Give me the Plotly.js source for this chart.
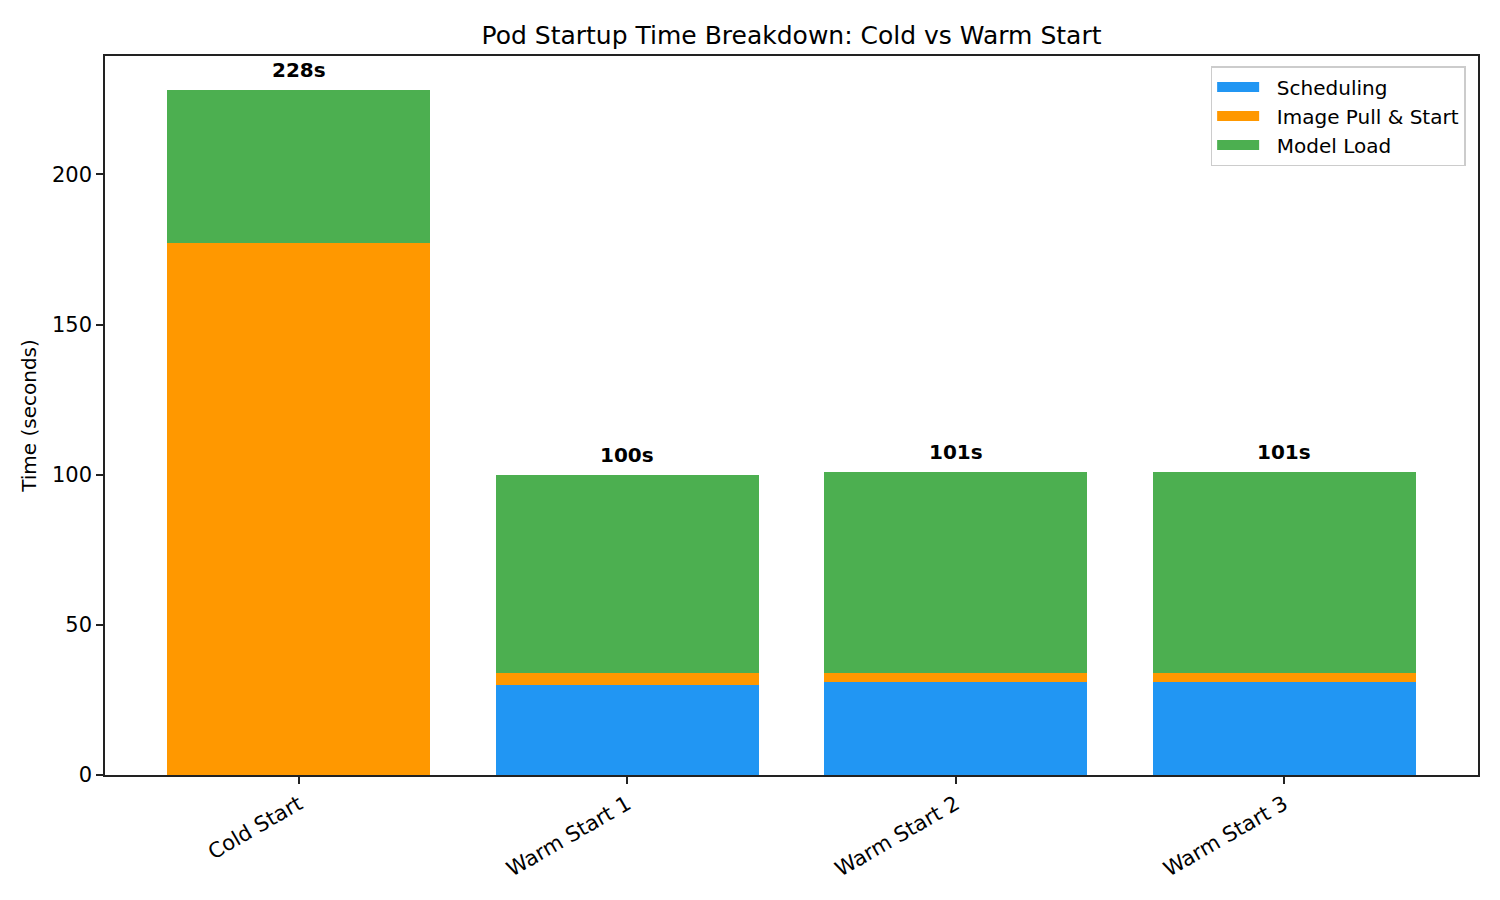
<!DOCTYPE html>
<html>
<head>
<meta charset="utf-8">
<script src="https://cdn.plot.ly/plotly-3.0.1.min.js"></script>
<style>
  html, body { margin: 0; padding: 0; background: #fff; }
  #divPlot { width: 1500px; height: 900px; }
</style>
</head>
<body>
<div id="divPlot"></div>
<script>
const stages = [ 'Cold Start', 'Warm Start 1', 'Warm Start 2', 'Warm Start 3' ];
const scheduling = [ 0, 30, 31, 31 ];
const imagePull = [ 177, 4, 3, 3 ];
const modelLoad = [ 51, 66, 67, 67 ];

const seriesNames = [ 'Scheduling', 'Image Pull & Start', 'Model Load' ];
const seriesColors = [ '#2196F3', '#FF9800', '#4CAF50' ];

const font = 'DejaVu Sans, sans-serif';

const totals = stages.map((_, i) => scheduling[i] + imagePull[i] + modelLoad[i]);

// the bars themselves, legend handled by the line swatches below
const bars = [ scheduling, imagePull, modelLoad ].map((y, k) => ({
  x : stages,
  y : y,
  name : seriesNames[k],
  type : 'bar',
  marker : {color : seriesColors[k], line : {width : 0}},
  showlegend : false,
  legendgroup : 'g' + k
}));

// wide rectangular swatches like matplotlib's legend patches
// (nbsp pad gives the gap between swatch and label)
const swatches = seriesNames.map((n, k) => ({
  x : [ null ],
  y : [ null ],
  name : '\u00a0\u00a0' + n,
  type : 'scatter',
  mode : 'lines',
  line : {color : seriesColors[k], width : 13},
  legendgroup : 'g' + k,
  hoverinfo : 'skip'
}));

const labels = stages.map((s, i) => ({
  x : s,
  y : totals[i],
  text : '<b>' + totals[i] + 's</b>',
  showarrow : false,
  yanchor : 'bottom',
  yshift : 6,
  font : {family : font, size : 20, color : '#000'}
}));

const layout = {
  width : 1500,
  height : 900,
  barmode : 'stack',
  bargap : 0.2,
  paper_bgcolor : '#fff',
  plot_bgcolor : '#fff',
  margin : {l : 105, r : 22, t : 56, b : 125},
  font : {family : font, size : 20, color : '#000'},
  title : {
    text : 'Pod Startup Time Breakdown: Cold vs Warm Start',
    font : {family : font, size : 25, color : '#000'},
    x : 0.5,
    xref : 'paper',
    y : 1,
    yref : 'paper',
    yanchor : 'bottom',
    pad : {b : 12}
  },
  xaxis : {
    type : 'category',
    range : [ -0.59, 3.59 ],
    tickangle : -30,
    ticks : 'outside',
    ticklen : 7,
    tickwidth : 1.6,
    tickcolor : '#222',
    showline : true,
    linecolor : '#222',
    linewidth : 1.6,
    mirror : true,
    showgrid : false,
    zeroline : false,
    tickfont : {family : font, size : 21, color : '#000'}
  },
  yaxis : {
    range : [ 0, 239.4 ],
    dtick : 50,
    ticks : 'outside',
    ticklen : 7,
    tickwidth : 1.6,
    tickcolor : '#222',
    showline : true,
    linecolor : '#222',
    linewidth : 1.6,
    mirror : true,
    showgrid : false,
    zeroline : false,
    tickfont : {family : font, size : 21, color : '#000'},
    title : {
      text : 'Time (seconds)',
      font : {family : font, size : 20, color : '#000'},
      standoff : 10
    }
  },
  legend : {
    x : 0.991,
    y : 0.986,
    xanchor : 'right',
    yanchor : 'top',
    traceorder : 'normal',
    bgcolor : '#fff',
    bordercolor : '#cccccc',
    borderwidth : 1.5,
    itemwidth : 42,
    font : {family : font, size : 20, color : '#000'}
  },
  annotations : labels,
  showlegend : true
};

Plotly.newPlot('divPlot', bars.concat(swatches), layout, {displayModeBar : false});
</script>
</body>
</html>
